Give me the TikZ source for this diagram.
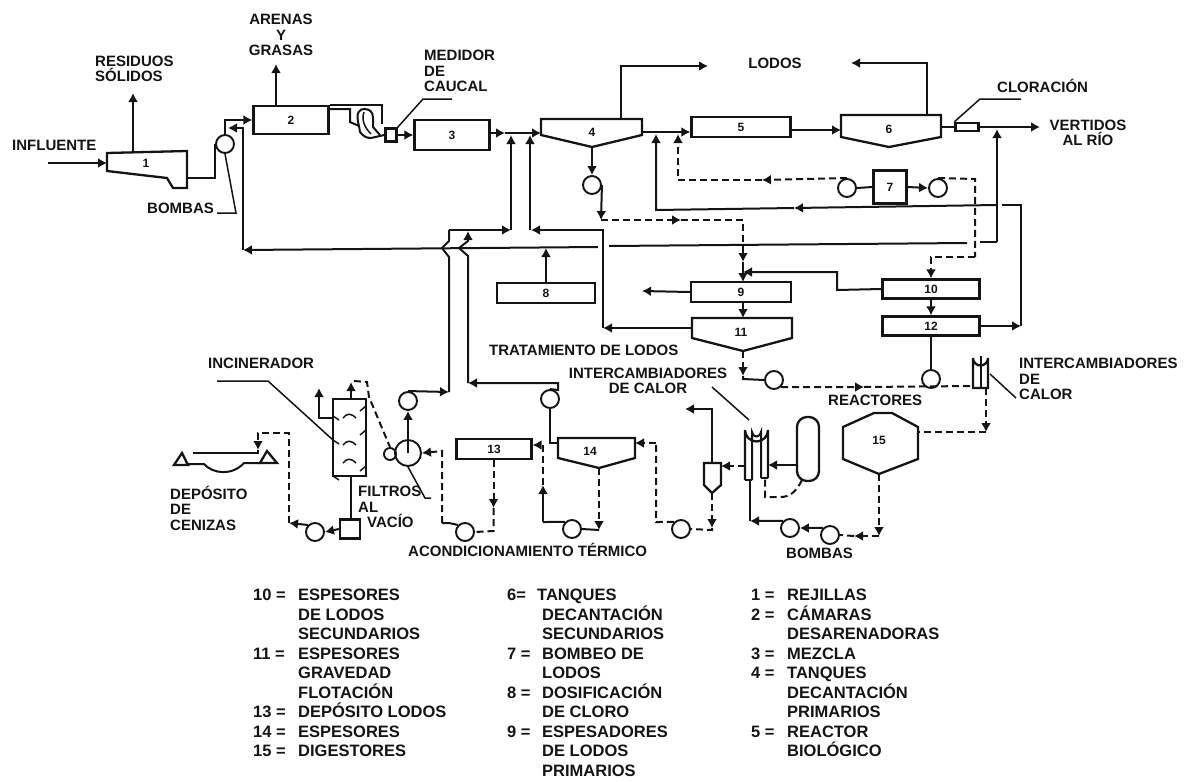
\documentclass[tikz,border=0pt]{standalone}
\usepackage{fontspec}
\setmainfont{Liberation Sans}
\usetikzlibrary{arrows.meta,positioning}
\definecolor{inkblack}{HTML}{141414}
\newcommand{\legrow}[3]{\makebox[#1][l]{#2}#3\\}

\begin{document}
\begin{tikzpicture}[
    x=1pt, y=-1pt,
    font=\bfseries\fontsize{15}{15.5}\selectfont,
    every node/.style={text=inkblack},
    unitbox/.style={
        rectangle,
        draw=inkblack,
        line width=2.3pt,
        inner sep=0pt,
        font=\bfseries\fontsize{12}{12}\selectfont
    },
    pumpc/.style={
        circle,
        draw=inkblack,
        line width=1.9pt,
        minimum size=18pt,
        inner sep=0pt
    },
    tag/.style={inner sep=0pt, align=left, anchor=west},
    ctag/.style={inner sep=0pt, align=center},
    legend/.style={
        inner sep=0pt,
        align=left,
        anchor=north west,
        font=\bfseries\fontsize{16.5}{19.5}\selectfont
    },
    num/.style={inner sep=0pt, font=\bfseries\fontsize{12}{12}\selectfont},
    pipe/.style={draw=inkblack, line width=2pt},
    flow/.style={pipe, -{Latex[length=9pt,width=10pt]}},
    sludge/.style={pipe, dash pattern=on 7pt off 4pt},
    sludgeflow/.style={sludge, -{Latex[length=9pt,width=10pt]}},
    leader/.style={draw=inkblack, line width=1.5pt},
    shell/.style={draw=inkblack, line width=2.3pt}
]
\useasboundingbox (0,0) rectangle (1184,782);

% process boxes
\node[unitbox, minimum width=75pt, minimum height=28pt] (box2) at (291,120) {2};
\node[unitbox, minimum width=75pt, minimum height=30pt] (box3) at (452,135) {3};
\node[unitbox, minimum width=99pt, minimum height=20pt] (box5) at (741,127) {5};
\node[unitbox, minimum width=33pt, minimum height=33pt] (box7) at (890,187) {7};
\node[unitbox, minimum width=98pt, minimum height=20pt] (box8) at (546,293) {8};
\node[unitbox, minimum width=100pt, minimum height=20pt] (box9) at (741,292) {9};
\node[unitbox, minimum width=97pt, minimum height=19pt] (box10) at (931,289) {10};
\node[unitbox, minimum width=97pt, minimum height=19pt] (box12) at (931,326) {12};
\node[unitbox, minimum width=75pt, minimum height=20pt] (box13) at (494,449) {13};
\node[unitbox, minimum width=11pt, minimum height=13pt] (meter) at (391,135) {};
\node[unitbox, minimum width=23pt, minimum height=8pt] (chlor) at (967,127) {};
\node[unitbox, minimum width=20pt, minimum height=19pt] (ashpump) at (350,529) {};
\node[unitbox, rounded corners=10pt, minimum width=22pt, minimum height=64pt] (vessel) at (808,449) {};

% tanks
\draw[shell] (107,153) -- (187,151) -- (187,188) -- (173,188) -- (167,178) -- (107,171) -- cycle;
\draw[shell] (541,119) -- (642,119) -- (642,135) -- (592,147) -- (541,135) -- cycle;
\draw[shell] (841,115) -- (941,115) -- (941,137) -- (889,147) -- (841,137) -- cycle;
\draw[shell] (692,318) -- (792,318) -- (792,338) -- (743,351) -- (692,338) -- cycle;
\draw[shell] (558,438) -- (635,438) -- (635,458) -- (599,468) -- (558,458) -- cycle;
\draw[shell] (843,427) -- (874,413) -- (892,413) -- (918,427) -- (918,459) -- (879,474) -- (843,459) -- cycle;
\draw[shell] (704,463) -- (721,463) -- (721,485) -- (712,493) -- (704,485) -- cycle;
\node[num] (lab1) at (146,163) {1};
\node[num] (lab4) at (592,132) {4};
\node[num] (lab6) at (889,129) {6};
\node[num] (lab11) at (741,332) {11};
\node[num] (lab14) at (590,451) {14};
\node[num] (lab15) at (879,440) {15};

% ends on the tanks
\coordinate (t1in) at (107,163);
\coordinate (t1top) at (133,152);
\coordinate (t1out) at (187,178);
\coordinate (t4in) at (541,133);
\coordinate (t4out) at (642,127);
\coordinate (t4top) at (621,119);
\coordinate (t4bot) at (592,147);
\coordinate (t6in) at (841,130);
\coordinate (t6out) at (941,127);
\coordinate (t6top) at (927,115);
\coordinate (t11left) at (692,328);
\coordinate (t11bot) at (743,351);
\coordinate (t14left) at (558,443);
\coordinate (t14right) at (635,443);
\coordinate (t14bot) at (599,468);
\coordinate (t15right) at (918,432);
\coordinate (t15bot) at (879,474);

% free ends and junctions
\coordinate (inflow) at (48,163);
\coordinate (solids) at (133,93);
\coordinate (sands) at (276,64);
\coordinate (lodosa) at (708,66);
\coordinate (lodosb) at (851,63);
\coordinate (river) at (1040,127);
\coordinate (box3out) at (490,133);
\coordinate (ja) at (505,133);
\coordinate (jb) at (511,230);
\coordinate (jbtop) at (511,135);
\coordinate (jc) at (530,230);
\coordinate (jctop) at (530,135);
\coordinate (jd) at (449,230);
\coordinate (je) at (468,231);
\coordinate (jf) at (449,392);
\coordinate (jg) at (468,383);
\coordinate (rivertop) at (997,129);
\coordinate (rivlow) at (997,242);
\coordinate (retc) at (243,250);
\coordinate (retd) at (546,248);
\coordinate (jh) at (603,328);
\coordinate (ji) at (603,230);
\coordinate (jk) at (1021,326);
\coordinate (jl) at (794,208);
\coordinate (jm) at (656,134);
\coordinate (jn) at (678,134);
\coordinate (jo) at (762,180);
\coordinate (jp) at (601,220);
\coordinate (jq) at (681,220);
\coordinate (jr) at (743,262);
\coordinate (js) at (743,272);
\coordinate (jt) at (743,376);
\coordinate (ju) at (864,387);
\coordinate (xbin) at (973,386);
\coordinate (xbout) at (986,388);
\coordinate (jv) at (986,432);
\coordinate (jw) at (879,536);
\coordinate (jx) at (854,536);
\coordinate (jy) at (750,521);
\coordinate (xaleft) at (745,466);
\coordinate (xaright) at (768,465);
\coordinate (xabot) at (750,480);
\coordinate (xclow) at (765,478);
\coordinate (sepa) at (721,466);
\coordinate (septop) at (712,463);
\coordinate (sepbot) at (712,493);
\coordinate (sepout) at (685,409);
\coordinate (jz) at (712,528);
\coordinate (ka) at (656,443);
\coordinate (kb) at (599,530);
\coordinate (kc) at (543,522);
\coordinate (kd) at (543,485);
\coordinate (ke) at (493.5,508);
\coordinate (kf) at (493.5,531);
\coordinate (kg) at (442,451);
\coordinate (kh) at (319,388);
\coordinate (ki) at (351,382);
\coordinate (kj) at (289,523);
\coordinate (kk) at (258,450);
\coordinate (inca) at (333,418);
\coordinate (incb) at (351,399);
\coordinate (incc) at (351,476);

% pumps
\node[pumpc] (pa) at (225,144) {};
\node[pumpc] (pb) at (592,185) {};
\node[pumpc] (pc) at (847,188) {};
\node[pumpc] (pd) at (938,188) {};
\node[pumpc] (pe) at (774,380) {};
\node[pumpc] (pf) at (931,379) {};
\node[pumpc] (pg) at (830,535) {};
\node[pumpc] (ph) at (790,528) {};
\node[pumpc] (pi) at (681,529) {};
\node[pumpc] (pj) at (572,529) {};
\node[pumpc] (pk) at (465,532) {};
\node[pumpc] (pl) at (315,532) {};
\node[pumpc] (pm) at (408,401) {};
\node[pumpc] (pn) at (550,399) {};
\node[pumpc, minimum size=26pt] (filter) at (408,453) {};
\node[pumpc, minimum size=12pt] (fdrum) at (390,454) {};

% exchangers
\draw[shell] (745,480) -- (745,430) arc (180:0:11.5) -- (768,478);
\draw[pipe] (752,480) -- (752,432) arc (180:0:4.5) -- (761,478);
\draw[shell] (745,480) -- (752,480);
\draw[shell] (761,478) -- (768,478);
\draw[shell] (973,388) -- (973,358) arc (180:0:7.5) -- (988,388) -- cycle;
\draw[pipe] (981,388) -- (981,356);

% incinerator
\draw[shell] (333,399) rectangle (366,476);
\foreach \yy in {415,442,460} {
    \draw[leader] (343,\yy+3) .. controls (347,\yy-2) and (351,\yy-2) .. (356,\yy+3);
}
\foreach \yy in {408,432,468} {
    \draw[leader] (360,\yy+3) -- (366,\yy-2);
    \draw[leader] (333,\yy+8) -- (339,\yy+12);
}

% deposito
\draw[shell] (174,465) -- (182,453) -- (188,465) -- cycle;
\draw[shell] (260,463) -- (267,451) -- (277,463) -- cycle;
\draw[pipe] (188,464) -- (204,464) .. controls (213,474) and (232,476) .. (244,463) -- (260,463);

% main line
\draw[flow] (inflow) -- (t1in);
\draw[flow] (t1top) -- (solids);
\draw[pipe] (t1out) -| (pa.west);
\draw[flow] (pa.north) |- (box2.west);
\draw[flow] (276,106) -- (sands);
\draw[pipe] (box2.east |- 0,109) -- (350,109) -- (350,122) -- (359,126);
\draw[pipe] (box2.north east |- 0,105) -- (382,105) -- (382,124);
\draw[pipe] (359,126) .. controls (355,112) and (360,109) .. (364,109) .. controls (370,109) and (373,112) .. (373,118) -- (373,127) -- (380,135);
\draw[pipe] (359,126) -- (360,132) .. controls (363,136) and (366,138) .. (371,138) -- (meter.west);
\draw[leader] (364,112) .. controls (361,120) and (365,128) .. (371,134);
\draw[flow] (meter.east) -- (box3.west);
\draw[flow] (box3out) -- (ja);
\draw[flow] (ja) -- (t4in);
\draw[flow] (t4out |- 0,132) -- (box5.west |- 0,132);
\draw[flow] (box5.east |- t6in) -- (t6in);
\draw[pipe] (t6out) -- (chlor.west);
\draw[flow] (chlor.east) -- (river);
\draw[flow] (t4top) |- (lodosa);
\draw[flow] (t6top) |- (lodosb);

% return lines
\draw[flow] (rivlow) -- (rivertop);
\draw[pipe] (rivlow) -- (980,242);
\draw[pipe] (967,243) -- (609,246);
\draw[flow] (598,247) -- (retc);
\draw[flow] (retc) -- (243,128) -- (228,128);
\draw[flow] (t11left) -- (jh);
\draw[flow] (jh) -- (ji) -- (531,230);
\draw[flow] (jc) -- (jctop);
\draw[flow] (pm.north) -- (jf);
\draw[pipe] (jf) -- (449,257) -- (442,248) -- (449,241) -- (jd);
\draw[flow] (jd) -- (jb);
\draw[flow] (jb) -- (jbtop);
\draw[flow] (pn.north) -- (558,390) -- (558,383) -- (jg);
\draw[flow] (jg) -- (468,256) -- (459,248) -- (468,241) -- (je);
\draw[flow] (box8.north) -- (retd);
\draw[flow] (box12.east) -- (jk);
\draw[pipe] (jk) -- (1021,205) -- (1002,205);
\draw[flow] (997,205) -- (jl);
\draw[flow] (jl) -- (656,210) -- (jm);

% sludge lines
\draw[flow] (t4bot) -- (pb.north);
\draw[flow] (pb.east) -- (jp);
\draw[sludgeflow] (jp) -- (jq);
\draw[sludgeflow] (jq) -| (jr);
\draw[flow] (jr) -- (743,282);
\draw[flow] (box10.west) -- (837,290) -- (837,272) -- (js);
\draw[flow] (box9.west) -- (642,291);
\draw[flow] (743,302) -- (743,318);
\draw[flow] (box10.south) -- (box12.north);
\draw[pipe] (box7.west) -- (pc.east);
\draw[flow] (box7.east) -- (pd.west);
\draw[sludgeflow] (pc.north) -- (jo);
\draw[sludgeflow] (jo) -| (jn);
\draw[sludge] (pd.north) -- (975,179) -- (975,257);
\draw[sludgeflow] (975,257) -- (931,257) -- (box10.north);
\draw[pipe] (box12.south) -- (pf.north);
\draw[sludgeflow] (t11bot) -- (jt);
\draw[pipe] (jt) -- (743,379) -- (pe.west);
\draw[sludgeflow] (pe.south east) -- (ju);
\draw[sludge] (ju) -- (xbin);
\draw[sludgeflow] (xbout) -- (jv);
\draw[sludge] (jv) -- (t15right);
\draw[sludgeflow] (t15bot) -- (jw);
\draw[sludgeflow] (jw) -- (jx);
\draw[sludge] (jx) -- (pg.east);
\draw[flow] (pg.north west) -- (ph.east);
\draw[flow] (ph.north west) -- (jy);
\draw[pipe] (jy) -- (xabot);
\draw[flow] (vessel.west |- xaright) -- (xaright);
\draw[sludge] (802,480) .. controls (796,492) and (790,497) .. (780,497) -- (765,497) -- (xclow);
\draw[sludgeflow] (xaleft) -- (sepa);
\draw[flow] (septop) |- (sepout);
\draw[sludgeflow] (sepbot) -- (jz);
\draw[sludge] (jz) -- (712,530) -- (pi.east);
\draw[sludge] (pi.north west) -- (656,522) -- (ka);
\draw[sludgeflow] (ka) -- (t14right);
\draw[pipe] (t14left) -- (550,443) -- (pn.south);
\draw[sludgeflow] (t14bot) -- (kb);
\draw[pipe] (kb) -- (pj.east);
\draw[pipe] (pj.north west) -- (kc);
\draw[flow] (kc) -- (kd);
\draw[sludgeflow] (kd) -- (543,445) -- (box13.east |- 0,445);
\draw[sludgeflow] (box13.south -| ke) -- (ke);
\draw[sludge] (ke) -- (kf) -- (pk.east);
\draw[pipe] (pk.north west) -- (449,523) -- (442,523);
\draw[sludgeflow] (442,523) -- (kg) -- (filter.east);
\draw[flow] (filter.center) -- (pm.south);
\draw[flow] (inca) -- (319,418) -- (kh);
\draw[flow] (incb) -- (ki);
\draw[sludge] (354,381) -- (367,382) -- (369,397) -- (fdrum.north);
\draw[pipe] (incc) -- (ashpump.north -| incc);
\draw[sludgeflow] (ashpump.west) -- (pl.east);
\draw[flow] (pl.north west) -- (kj);
\draw[sludgeflow] (kj) -- (289,433) -- (258,433) -- (kk);
\draw[pipe] (kk) -- (258,453) -- (193,453);

% leaders
\draw[leader] (217,213) -- (236,213) -- (pa.south);
\draw[leader] (452,99) -- (423,99) -- (meter.north east);
\draw[leader] (1021,99) -- (980,99) -- (chlor.north west);
\draw[leader] (217,381) -- (268,381) -- (333,440);
\draw[leader] (filter.south) -- (425,498) -- (431,498);
\draw[leader] (712,387) -- (749,420);
\draw[leader] (990,374) -- (1016,398);

% texts on the plant
\node[tag] (tinf) at (12,145) {INFLUENTE};
\node[tag] (tres) at (95,69) {RESIDUOS\\SÓLIDOS};
\node[ctag] (tare) at (281,35) {ARENAS\\Y\\GRASAS};
\node[tag] (tmed) at (424,71) {MEDIDOR\\DE\\CAUCAL};
\node[tag] (tbom) at (147,208) {BOMBAS};
\node[ctag] (tlod) at (775,63) {LODOS};
\node[tag] (tclo) at (997,86) {CLORACIÓN};
\node[ctag] (tver) at (1088,133) {VERTIDOS\\AL RÍO};
\node[tag] (ttra) at (489,350) {TRATAMIENTO DE LODOS};
\node[ctag] (tia) at (648,381) {INTERCAMBIADORES\\DE CALOR};
\node[tag] (tib) at (1019,379) {INTERCAMBIADORES\\DE\\CALOR};
\node[tag] (trea) at (828,400) {REACTORES};
\node[tag] (tinc) at (208,363) {INCINERADOR};
\node[tag] (tdep) at (170,508) {DEPÓSITO\\DE\\CENIZAS};
\node[tag] (tfil) at (358,507) {FILTROS\\AL\\\hspace*{9pt}VACÍO};
\node[tag] (taco) at (408,550) {ACONDICIONAMIENTO TÉRMICO};
\node[tag] (tbo2) at (786,553) {BOMBAS};

% legend
\node[legend] (lega) at (253,589) {%
    \legrow{45pt}{10 =}{ESPESORES}
    \legrow{45pt}{}{DE LODOS}
    \legrow{45pt}{}{SECUNDARIOS}
    \legrow{45pt}{11 =}{ESPESORES}
    \legrow{45pt}{}{GRAVEDAD}
    \legrow{45pt}{}{FLOTACIÓN}
    \legrow{45pt}{13 =}{DEPÓSITO LODOS}
    \legrow{45pt}{14 =}{ESPESORES}
    \makebox[45pt][l]{15 =}DIGESTORES};
\node[legend] (legb) at (507,589) {%
    \legrow{30pt}{6=}{TANQUES}
    \legrow{35pt}{}{DECANTACIÓN}
    \legrow{35pt}{}{SECUNDARIOS}
    \legrow{35pt}{7 =}{BOMBEO DE}
    \legrow{35pt}{}{LODOS}
    \legrow{35pt}{8 =}{DOSIFICACIÓN}
    \legrow{35pt}{}{DE CLORO}
    \legrow{35pt}{9 =}{ESPESADORES}
    \legrow{35pt}{}{DE LODOS}
    \makebox[35pt][l]{}PRIMARIOS};
\node[legend] (legc) at (751,589) {%
    \legrow{36pt}{1 =}{REJILLAS}
    \legrow{36pt}{2 =}{CÁMARAS}
    \legrow{36pt}{}{DESARENADORAS}
    \legrow{36pt}{3 =}{MEZCLA}
    \legrow{36pt}{4 =}{TANQUES}
    \legrow{36pt}{}{DECANTACIÓN}
    \legrow{36pt}{}{PRIMARIOS}
    \legrow{36pt}{5 =}{REACTOR}
    \makebox[36pt][l]{}BIOLÓGICO};

\end{tikzpicture}
\end{document}
